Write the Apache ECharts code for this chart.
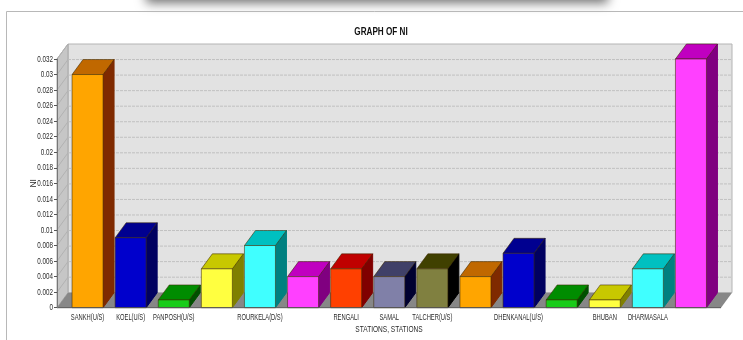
<!DOCTYPE html>
<html>
<head>
<meta charset="utf-8">
<style>html,body{margin:0;padding:0;background:#fff}#chart{width:743px;height:340px}</style>
<script src="https://cdn.jsdelivr.net/npm/echarts@6/dist/echarts.min.js"></script>
</head>
<body>
<div id="chart"></div>
<script>
// Stations along the river; unnamed slots carry no label on the axis.
const stations = ['SANKH(U/S)','KOEL(U/S)','PANPOSH(U/S)','','ROURKELA(D/S)','','RENGALI','SAMAL','TALCHER(U/S)','','DHENKANAL(U/S)','','BHUBAN','DHARMASALA',''];
const niValues = [0.03,0.009,0.001,0.005,0.008,0.004,0.005,0.004,0.005,0.004,0.007,0.001,0.001,0.005,0.032];
const yTicks = [0,0.002,0.004,0.006,0.008,0.01,0.012,0.014,0.016,0.018,0.02,0.022,0.024,0.026,0.028,0.03,0.032];

// Face colours per bar, cycling through the palette.
const frontColors = ['#ffa500','#0000cc','#19cc19','#ffff40','#40ffff','#ff40ff','#ff4000','#8080a8','#808040'];
const topColors   = ['#c06800','#000090','#008c00','#c8c800','#00c0c0','#c000c0','#c00000','#404068','#404000'];
const sideColors  = ['#7f2a00','#000060','#005000','#808000','#008080','#800080','#800000','#000030','#000000'];

// Extrusion of the 3D box, and how far the floor runs past the outer bands.
const DEPTH_X = 11, DEPTH_Y = 15, PAD_LEFT = 9, PAD_RIGHT = 8.5;
const FONT = '"Liberation Sans",Arial,sans-serif';

function poly(points, fill, stroke, lw) {
  return { type: 'polygon', shape: { points }, style: { fill, stroke: stroke || 'none', lineWidth: lw || 0 } };
}

// Horizontally condensed text, the face used on this chart is a narrow one.
function narrowText(text, x, y, scaleX, fontSize, align) {
  return {
    type: 'text', x, y, scaleX,
    style: { text, fill: '#2a2a2a', fontFamily: FONT, fontSize, align, verticalAlign: 'middle' }
  };
}

// Back wall, side wall, floor and the ruled lines drawn on them.
function renderRoom(params, api) {
  const c = params.coordSys;
  const left = c.x - PAD_LEFT, right = c.x + c.width + PAD_RIGHT, top = c.y, bottom = c.y + c.height;
  const kids = [
    poly([[left + DEPTH_X, top - DEPTH_Y], [right + DEPTH_X, top - DEPTH_Y], [right + DEPTH_X, bottom - DEPTH_Y], [left + DEPTH_X, bottom - DEPTH_Y]], '#e2e2e2', '#b4b4b4', 1),
    poly([[left, top], [left + DEPTH_X, top - DEPTH_Y], [left + DEPTH_X, bottom - DEPTH_Y], [left, bottom]], '#c6c6c6', '#a8a8a8', 1),
    poly([[left, bottom], [left + DEPTH_X, bottom - DEPTH_Y], [right + DEPTH_X, bottom - DEPTH_Y], [right, bottom]], '#878787')
  ];
  yTicks.slice(1).forEach(v => {
    const y = api.coord([0, v])[1];
    if (v < 0.032) {
      kids.push({ type: 'line', shape: { x1: left + DEPTH_X, y1: y - DEPTH_Y, x2: right + DEPTH_X, y2: y - DEPTH_Y },
        style: { stroke: '#c0c0c0', lineWidth: 1, lineDash: [3, 1] } });
    }
    kids.push({ type: 'line', shape: { x1: left, y1: y, x2: left + DEPTH_X, y2: y - DEPTH_Y },
      style: { stroke: '#b2b2b2', lineWidth: 1 } });
  });
  return { type: 'group', children: kids };
}

// One extruded bar: front face, top face and right side.
function renderBar(params, api) {
  const i = api.value(0);
  const w = 31;
  const cx = api.coord([i, 0])[0];
  const base = api.coord([i, 0])[1];
  const topY = api.coord([i, api.value(1)])[1];
  const l = cx - w / 2, r = cx + w / 2;
  const k = i % frontColors.length;
  const edge = 'rgba(60,40,0,0.55)';
  return {
    type: 'group',
    children: [
      poly([[r, base], [r + DEPTH_X, base - DEPTH_Y], [r + DEPTH_X, topY - DEPTH_Y], [r, topY]], sideColors[k], sideColors[k], 1),
      poly([[l, topY], [l + DEPTH_X, topY - DEPTH_Y], [r + DEPTH_X, topY - DEPTH_Y], [r, topY]], topColors[k], edge, 1),
      poly([[l, topY], [r, topY], [r, base], [l, base]], frontColors[k], edge, 1)
    ]
  };
}

// Dark front edge of the floor, in front of the bars' bases.
function renderBaseLine(params) {
  const c = params.coordSys;
  const y = c.y + c.height;
  return { type: 'line', shape: { x1: c.x - PAD_LEFT, y1: y, x2: c.x + c.width + PAD_RIGHT, y2: y },
    style: { stroke: '#555', lineWidth: 1 } };
}

// Condensed category labels under the ticks.
function renderStationLabel(params, api) {
  const i = api.value(0);
  const p = api.coord([i, 0]);
  return narrowText(stations[i], p[0], p[1] + 9.5, 0.61, 9.5, 'center');
}

// Condensed value labels beside the ticks.
function renderValueLabel(params, api) {
  const v = api.value(1);
  const p = api.coord([0, v]);
  return narrowText(String(v), params.coordSys.x - PAD_LEFT - 4, p[1], 0.66, 9.5, 'right');
}

const chart = echarts.init(document.getElementById('chart'), null, { renderer: 'canvas' });
chart.setOption({
  animation: false,
  backgroundColor: '#ffffff',
  // Page furniture and headings: shadowed strip, panel outline, title, x axis name.
  graphic: [
    { type: 'rect', z: 0, shape: { x: 146, y: -20, width: 462, height: 20 },
      style: { fill: '#7a7a7a', shadowBlur: 11, shadowColor: '#707070', shadowOffsetY: 3 } },
    { type: 'polyline', z: 1, shape: { points: [[6.5, 340], [6.5, 11.5], [743, 11.5]] },
      style: { fill: 'none', stroke: '#b8b8b8', lineWidth: 1 } },
    { type: 'text', z: 6, x: 381, y: 32, scaleX: 0.74,
      style: { text: 'GRAPH OF NI', fill: '#111', fontFamily: FONT, fontSize: 11, fontWeight: 'bold', align: 'center', verticalAlign: 'middle' } },
    { type: 'text', z: 6, x: 389, y: 329, scaleX: 0.69,
      style: { text: 'STATIONS, STATIONS', fill: '#2a2a2a', fontFamily: FONT, fontSize: 9.5, align: 'center', verticalAlign: 'middle' } }
  ],
  grid: { left: 66, width: 646.5, top: 59, height: 248.7 },
  xAxis: {
    type: 'category', data: stations,
    axisLine: { show: false },
    axisTick: { alignWithLabel: true, length: 3, lineStyle: { color: '#444' }, interval: (i, name) => name !== '' },
    axisLabel: { show: false },
    z: 5
  },
  yAxis: {
    type: 'value', min: 0, max: 0.032, interval: 0.002, offset: 9,
    name: 'NI', nameLocation: 'middle', nameGap: 19,
    nameTextStyle: { fontFamily: FONT, fontSize: 8.5, color: '#2a2a2a' },
    axisLine: { show: true, lineStyle: { color: '#777' } },
    axisTick: { show: true, length: 3, lineStyle: { color: '#555' } },
    axisLabel: { show: false },
    splitLine: { show: false },
    z: 5
  },
  series: [
    { type: 'custom', z: 1, silent: true, clip: false, renderItem: renderRoom, data: [[0, 0]], encode: { x: 0, y: 1 } },
    { type: 'custom', z: 3, clip: false, renderItem: renderBar,
      data: niValues.map((v, i) => [i, v]), encode: { x: 0, y: 1 } },
    { type: 'custom', z: 4, silent: true, clip: false, renderItem: renderBaseLine, data: [[0, 0]], encode: { x: 0, y: 1 } },
    { type: 'custom', z: 6, silent: true, clip: false, renderItem: renderStationLabel,
      data: stations.map((s, i) => [i, 0]), encode: { x: 0, y: 1 } },
    { type: 'custom', z: 6, silent: true, clip: false, renderItem: renderValueLabel,
      data: yTicks.map(v => [0, v]), encode: { x: 0, y: 1 } }
  ]
});
</script>
</body>
</html>
